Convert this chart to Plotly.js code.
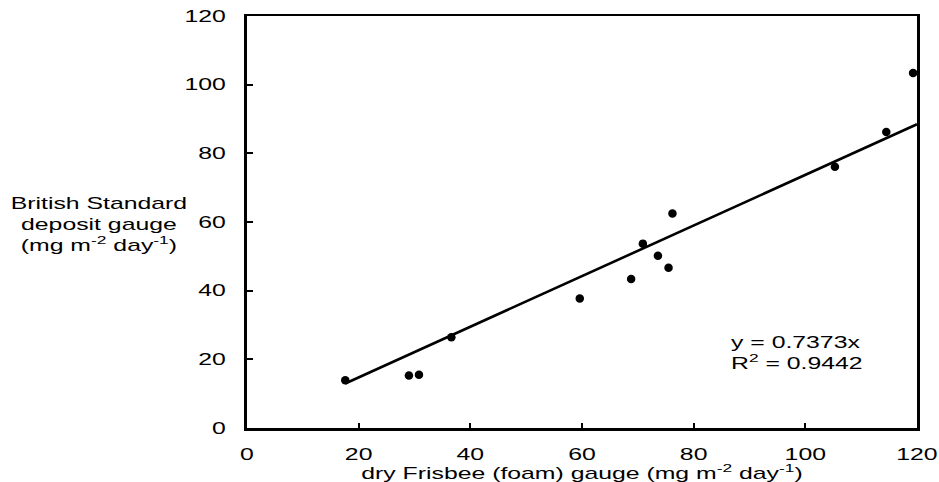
<!DOCTYPE html>
<html>
<head>
<meta charset="utf-8">
<script src="https://cdn.plot.ly/plotly-3.0.1.min.js"></script>
<style>html,body{margin:0;padding:0;background:#fff;}#chart{width:939px;height:482px;}</style>
</head>
<body>
<div id="chart"></div>
<script>
// Data
const frisbeeX = [17.6, 29.0, 30.8, 36.6, 59.6, 68.8, 70.9, 73.6, 75.5, 76.2, 105.3, 114.5, 119.3];
const depositY = [13.9, 15.3, 15.5, 26.4, 37.7, 43.4, 53.7, 50.2, 46.7, 62.5, 76.1, 86.2, 103.4];
const slope = 0.7373;
const rSquared = 0.9442;
const xTicks = [0, 20, 40, 60, 80, 100, 120];
const yTicks = [0, 20, 40, 60, 80, 100, 120];
const xRange = [0, 120];
const yRange = [0, 120];

const lineX = [Math.min(...frisbeeX), xRange[1]];
const lineY = lineX.map(v => slope * v);

const FONT = 'Liberation Sans, Arial, sans-serif';
const FS = 16;
const TEXT_STRETCH = 1.55; // the reference's lettering is horizontally wide

const traces = [
  {
    x: lineX, y: lineY, type: 'scatter', mode: 'lines',
    line: {color: '#000', width: 2.6}, hoverinfo: 'skip', showlegend: false
  },
  {
    x: frisbeeX, y: depositY, type: 'scatter', mode: 'markers',
    marker: {color: '#000', size: 8.5, symbol: 'circle'}, showlegend: false
  }
];

const layout = {
  width: 939, height: 482,
  margin: {l: 247, r: 22, t: 16, b: 54},
  paper_bgcolor: '#fff', plot_bgcolor: '#fff',
  font: {family: FONT, size: FS, color: '#000'},
  showlegend: false,
  xaxis: {
    range: xRange, tickvals: xTicks, ticktext: xTicks.map(String),
    ticks: 'inside', ticklen: 5, tickwidth: 2, tickcolor: '#000',
    showline: true, linecolor: '#000', linewidth: 2.5, mirror: true,
    showgrid: false, zeroline: false,
    ticklabelstandoff: 10,
    tickfont: {family: FONT, size: FS, color: '#000'},
    title: {text: 'dry Frisbee (foam) gauge (mg m<sup>-2</sup> day<sup>-1</sup>)', font: {family: FONT, size: FS, color: '#000'}, standoff: 3}
  },
  yaxis: {
    range: yRange, tickvals: yTicks, ticktext: yTicks.map(String),
    ticks: 'inside', ticklen: 6, tickwidth: 2, tickcolor: '#000',
    showline: true, linecolor: '#000', linewidth: 3, mirror: true,
    showgrid: false, zeroline: false,
    ticklabelstandoff: 15,
    tickfont: {family: FONT, size: FS, color: '#000'}
  },
  annotations: [
    {
      xref: 'paper', yref: 'paper', x: -0.221, y: 0.495,
      xanchor: 'center', yanchor: 'middle', align: 'center', showarrow: false,
      text: 'British Standard<br>deposit gauge<br>(mg m<sup>-2</sup> day<sup>-1</sup>)',
      font: {family: FONT, size: FS, color: '#000'}
    },
    {
      xref: 'paper', yref: 'paper', x: 0.72, y: 0.182,
      xanchor: 'left', yanchor: 'middle', align: 'left', showarrow: false,
      text: 'y = ' + slope + 'x<br>R<sup>2</sup> = ' + rSquared,
      font: {family: FONT, size: FS, color: '#000'}
    }
  ]
};

const gd = document.getElementById('chart');
Plotly.newPlot(gd, traces, layout, {displayModeBar: false, staticPlot: true}).then(() => {
  gd.querySelectorAll('.main-svg text').forEach(t => {
    let bb;
    try { bb = t.getBBox(); } catch (e) { return; }
    if (!bb || !bb.width) return;
    const anchor = t.getAttribute('text-anchor') || getComputedStyle(t).textAnchor || 'start';
    const cx = anchor === 'middle' ? bb.x + bb.width / 2 : (anchor === 'end' ? bb.x + bb.width : bb.x);
    const tr = t.getAttribute('transform') || '';
    t.setAttribute('transform', (tr + ' translate(' + cx + ',0) scale(' + TEXT_STRETCH + ',1) translate(' + (-cx) + ',0)').trim());
  });
});
</script>
</body>
</html>
